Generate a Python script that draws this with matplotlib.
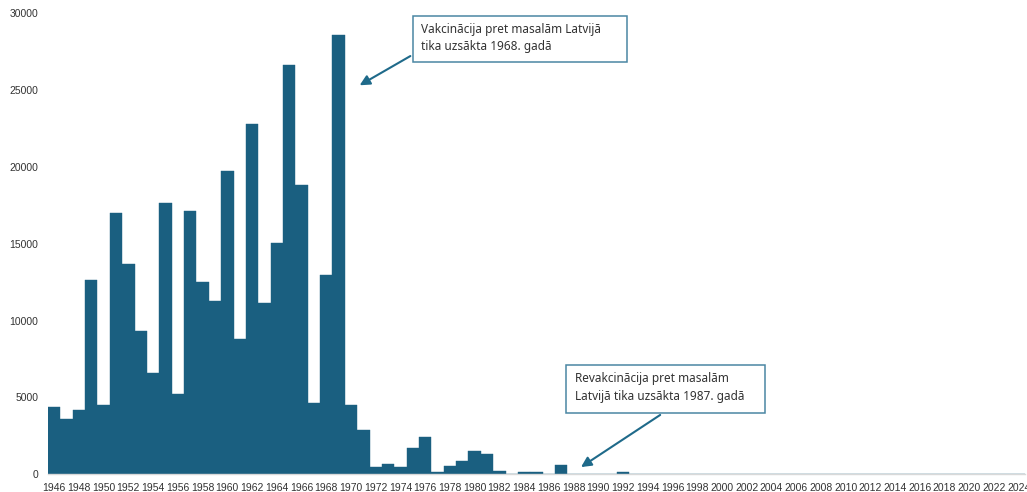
import matplotlib.pyplot as plt
from matplotlib.patches import Rectangle

# masalu gadījumi Latvijā pa gadiem
gadi = list(range(1946, 2025))
gadijumi = [
    4400, 3600, 4150, 12650, 4500, 17000, 13700, 9350, 6600, 17650,
    5250, 17150, 12500, 11270, 19700, 8770, 22800, 11170, 15070, 26650,
    18830, 4650, 12960, 28600, 4520, 2860, 450, 690, 450, 1690,
    2420, 170, 520, 860, 1530, 1340, 200, 40, 180, 140,
    0, 600, 40, 0, 0, 0, 180,
]
gadijumi += [0] * (len(gadi) - len(gadijumi))

krasa = "#1a5f80"
teksts_1 = "Vakcinācija pret masalām Latvijā\ntika uzsākta 1968. gadā"
teksts_2 = "Revakcinācija pret masalām\nLatvijā tika uzsākta 1987. gadā"

fig = plt.figure(figsize=(10.27, 4.92), dpi=100)
ax = fig.add_axes([48 / 1027, 17.7 / 492, 977 / 1027, 461.3 / 492])

x = list(range(len(gadi)))
ax.bar(x, gadijumi, width=1.0, color=krasa, edgecolor=krasa, linewidth=0.3)

ax.set_xlim(-0.5, len(gadi) - 0.5)
ax.set_ylim(0, 30000)
ax.set_yticks(range(0, 30001, 5000))
ax.set_xticks(x[::2])
ax.set_xticklabels([str(g) for g in gadi[::2]])
ax.tick_params(axis="both", length=0, labelsize=7.5, colors="#333333")
ax.tick_params(axis="x", pad=6)
ax.tick_params(axis="y", pad=7)
for lbl in ax.get_xticklabels() + ax.get_yticklabels():
    lbl.set_fontfamily("Liberation Sans")

for side in ["top", "right", "left"]:
    ax.spines[side].set_visible(False)
ax.spines["bottom"].set_color("#d9d9d9")
ax.spines["bottom"].set_linewidth(1)

# paskaidrojumu rāmji ar bultām
def piezime(ax, teksts, x0, x1, y0, y1, bulta_no, bulta_uz):
    ax.add_patch(Rectangle((x0, y0), x1 - x0, y1 - y0, fill=True, facecolor="white",
                           edgecolor="#4a86a3", linewidth=1.1, clip_on=False, zorder=4))
    ax.text(x0 + 0.7, y1 - 450, teksts, ha="left", va="top", fontsize=8.5,
            family="Noto Sans", color="#333333", linespacing=1.45, zorder=5)
    ax.annotate("", xy=bulta_uz, xytext=bulta_no, zorder=5,
                arrowprops=dict(arrowstyle="-|>,head_length=0.6,head_width=0.3",
                                color="#1f6a8a", lw=1.5, shrinkA=0, shrinkB=0))

piezime(ax, teksts_1, 29.0, 46.3, 26800, 29800, (28.8, 27200), (24.7, 25300))
piezime(ax, teksts_2, 41.4, 57.5, 4000, 7100, (49.0, 3860), (42.6, 470))

fig.savefig("out.png", dpi=100)
